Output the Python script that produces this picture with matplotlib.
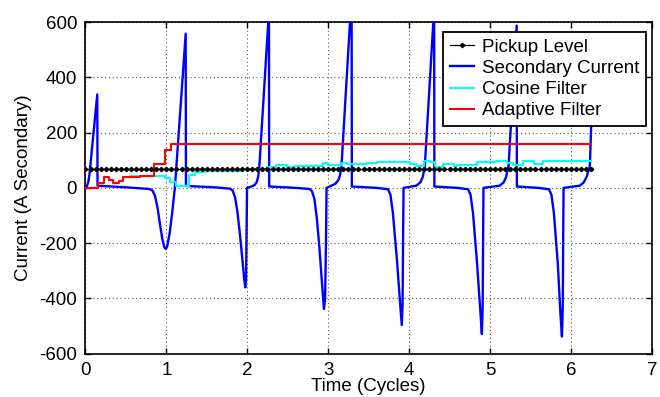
import numpy as np
import matplotlib
matplotlib.use("Agg")
import matplotlib.pyplot as plt

plt.rcParams['font.family'] = ['Liberation Sans', 'DejaVu Sans']
plt.rcParams['axes.unicode_minus'] = False

# Relay pickup setting (A secondary), sampled at 16 samples per cycle
pickup_level = 70
samples_per_cycle = 16
pickup_end = 6.25

# Saturated CT secondary current: (time in cycles, current in A)
sec_t = [0.000, 0.020, 0.035, 0.050, 0.146, 0.149, 0.500, 0.790, 0.830, 0.860,
         0.890, 0.920, 0.950, 0.975, 0.993, 1.010, 1.040, 1.070, 1.105, 1.239,
         1.242, 1.600, 1.790, 1.820, 1.850, 1.880, 1.910, 1.940, 1.962, 1.975,
         1.985, 1.992, 1.997, 2.050, 2.090, 2.115, 2.135, 2.150, 2.268, 2.271,
         2.600, 2.770, 2.800, 2.830, 2.860, 2.890, 2.920, 2.948, 2.962, 2.975,
         2.980, 3.040, 3.090, 3.130, 3.150, 3.165, 3.290, 3.293, 3.600, 3.740,
         3.770, 3.800, 3.850, 3.890, 3.910, 3.920, 3.927, 3.932, 4.090, 4.140,
         4.170, 4.195, 4.310, 4.313, 4.600, 4.730, 4.760, 4.790, 4.840, 4.880,
         4.900, 4.910, 4.916, 4.920, 5.120, 5.170, 5.200, 5.230, 5.330, 5.333,
         5.600, 5.730, 5.760, 5.790, 5.840, 5.870, 5.890, 5.900, 5.906, 5.910,
         6.110, 6.160, 6.195, 6.235, 6.262]
sec_i = [0, 8, 22, 50, 338, 8, 2, -4, -10, -30,
         -70, -130, -185, -215, -221, -212, -165, -95, 0, 558,
         7, 2, -3, -10, -35, -90, -170, -260, -330, -360,
         -330, -150, 0, 5, 10, 20, 40, 80, 640, 5,
         0, -4, -12, -40, -110, -210, -330, -438, -400, -150,
         0, 8, 15, 30, 50, 80, 700, 5, 0, -5,
         -25, -90, -260, -420, -496, -420, -150, 0, 8, 20,
         40, 80, 650, 5, 0, -5, -25, -90, -270, -440,
         -529, -430, -150, 0, 8, 20, 40, 80, 587, 5,
         0, -5, -25, -90, -280, -450, -538, -430, -150, 0,
         8, 20, 40, 80, 320]

# Cosine filter magnitude estimate (step changes)
cos_t = [0.55, 0.98, 1.05, 1.12, 1.28, 1.35, 1.48, 1.95, 2.24, 2.36,
         2.49, 2.59, 2.94, 3.00, 3.17, 3.23, 3.48, 3.60, 3.85, 4.01,
         4.09, 4.18, 4.26, 4.32, 4.42, 4.55, 4.59, 4.84, 5.08, 5.21,
         5.29, 5.41, 5.54, 5.66, 6.25]
cos_v = [42, 34, 20, 7, 45, 56, 60, 68, 75, 82,
         75, 80, 89, 82, 91, 86, 89, 92, 94, 87,
         80, 96, 92, 75, 86, 80, 84, 93, 98, 89,
         84, 98, 87, 98, 98]

# Adaptive filter magnitude estimate (step changes)
adp_t = [0.0, 0.158, 0.232, 0.29, 0.344, 0.418, 0.467, 0.67, 0.85, 0.983, 1.06, 6.25]
adp_v = [0, 18, 38, 28, 16, 25, 40, 42, 88, 136, 160, 160]

x_ticks = [0, 1, 2, 3, 4, 5, 6, 7]
y_ticks = [-600, -400, -200, 0, 200, 400, 600]

FS = 13.5

fig = plt.figure(figsize=(6.6, 3.97), dpi=100)
ax = fig.add_axes([0.1295, 0.109, 0.858, 0.8355])

n_samples = int(round(pickup_end * samples_per_cycle)) + 1
pk_t = np.linspace(0, pickup_end, n_samples)
pk_v = np.full(n_samples, pickup_level)

ax.plot(sec_t, sec_i, color='#0000FF', lw=1.7, label='Secondary Current', zorder=3)
ax.plot(cos_t, cos_v, color='#00FFFF', lw=1.5, drawstyle='steps-post',
        label='Cosine Filter', zorder=4)
ax.plot(adp_t, adp_v, color='#FF0000', lw=1.5, drawstyle='steps-post',
        label='Adaptive Filter', zorder=5)
ax.plot(pk_t, pk_v, color='black', lw=0.9, marker='D', markersize=2.2,
        label='Pickup Level', zorder=6)

ax.set_xlim(0, 7)
ax.set_ylim(-600, 600)
ax.set_xticks(x_ticks)
ax.set_yticks(y_ticks)
ax.tick_params(direction='in', length=4, width=1.0, top=True, right=True,
               labelsize=FS, pad=6)
ax.grid(True, linestyle=(0, (1, 2.5)), color='#555555', lw=0.8)
for s in ax.spines.values():
    s.set_linewidth(1.2)

ax.set_xlabel('Time (Cycles)', fontsize=FS, labelpad=-1)
ax.set_ylabel('Current (A Secondary)', fontsize=FS, labelpad=5)

handles, labels = ax.get_legend_handles_labels()
order = [3, 0, 1, 2]
leg = ax.legend([handles[i] for i in order], [labels[i] for i in order],
                loc='upper right', bbox_to_anchor=(0.989, 0.970),
                borderaxespad=0, fontsize=FS, fancybox=False, framealpha=1,
                edgecolor='black', handlelength=1.28, handletextpad=0.41,
                labelspacing=0.22, borderpad=0.35)
leg.get_frame().set_linewidth(1.3)
leg.set_zorder(10)

fig.savefig('out.png', dpi=100)
